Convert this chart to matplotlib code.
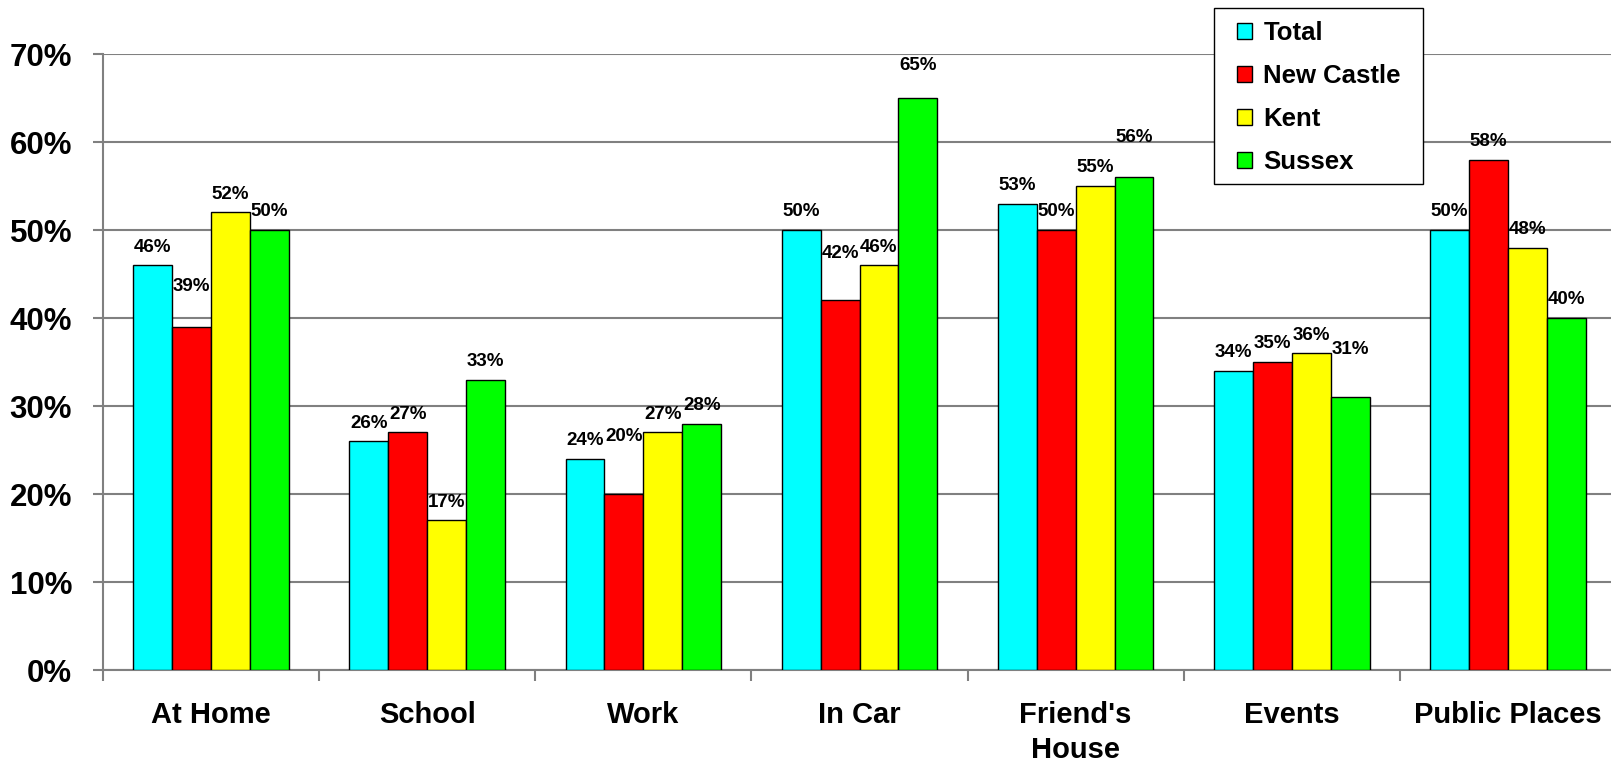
import matplotlib.pyplot as plt
from matplotlib.patches import Rectangle
import numpy as np

plt.rcParams['font.family'] = ['Liberation Sans', 'DejaVu Sans']
plt.rcParams['font.weight'] = 'bold'

places = ['At Home', 'School', 'Work', 'In Car', "Friend's\nHouse", 'Events', 'Public Places']
series = ['Total', 'New Castle', 'Kent', 'Sussex']
total = [46, 26, 24, 50, 53, 34, 50]
new_castle = [39, 27, 20, 42, 50, 35, 58]
kent = [52, 17, 27, 46, 55, 36, 48]
sussex = [50, 33, 28, 65, 56, 31, 40]

colors = ['#00FFFF', '#FF0000', '#FFFF00', '#00FF00']
# extra lift (in % points) for labels that sit higher than the default
lift = {(1, 0): 2.5, (1, 2): 4.5, (1, 3): 3.3, (3, 3): 1.6, (3, 4): 2.5, (3, 5): 3.3}

fig = plt.figure(figsize=(16.11, 7.64), dpi=100)
ax = fig.add_axes([103 / 1611, 1 - 670 / 764, 1513 / 1611, 616 / 764])

x = np.arange(len(places))
w = 0.18
for i, (name, vals) in enumerate(zip(series, [total, new_castle, kent, sussex])):
    pos = x + (i - 1.5) * w
    vals = np.array(vals) / 100
    ax.bar(pos, vals, w, color=colors[i], edgecolor='black', linewidth=1, label=name, zorder=3)
    for j, (p, v) in enumerate(zip(pos, vals)):
        y = v + 0.011 + lift.get((i, j), 0) / 100
        ax.text(p, y, f'{round(v * 100)}%', ha='center', va='bottom', fontsize=13.5, fontweight='bold', zorder=4)

ax.set_xlim(-0.5, len(places) - 0.5)
ax.set_ylim(0, 0.7)
ax.set_yticks(np.arange(0, 0.71, 0.1))
ax.set_yticklabels([f'{t}%' for t in range(0, 71, 10)], fontsize=22.5, fontweight='bold')
ax.yaxis.grid(True, color='#808080', linewidth=1.5, zorder=0)
ax.set_xticks(x)
ax.set_xticklabels(places, fontsize=21, fontweight='bold', linespacing=1.34)
ax.set_xticks(np.arange(-0.5, len(places)), minor=True)
ax.tick_params(axis='x', which='major', length=0, pad=22)
ax.tick_params(axis='x', which='minor', length=8, color='#808080', width=1.5)
ax.tick_params(axis='y', length=7.2, color='#808080', width=1.5, pad=15)
for s in ['top', 'right']:
    ax.spines[s].set_visible(False)
ax.spines['left'].set_color('#808080')
ax.spines['left'].set_linewidth(1.5)
ax.spines['bottom'].set_color('#808080')
ax.spines['bottom'].set_linewidth(1.5)

# legend box drawn by hand so its size matches
ax.add_patch(Rectangle((1214 / 1611, 1 - 184 / 764), 209 / 1611, 176 / 764, transform=fig.transFigure,
                       facecolor='white', edgecolor='black', linewidth=1, zorder=5, clip_on=False))
leg = ax.legend(loc='upper left', bbox_to_anchor=(1237 / 1611, 1 - 21 / 764), bbox_transform=fig.transFigure,
                prop={'size': 18.5, 'weight': 'bold'}, frameon=False,
                handlelength=0.58, handleheight=0.58, labelspacing=0.74, borderpad=0, handletextpad=0.45,
                borderaxespad=0)
leg.set_zorder(6)

fig.savefig('out.png', dpi=100)
